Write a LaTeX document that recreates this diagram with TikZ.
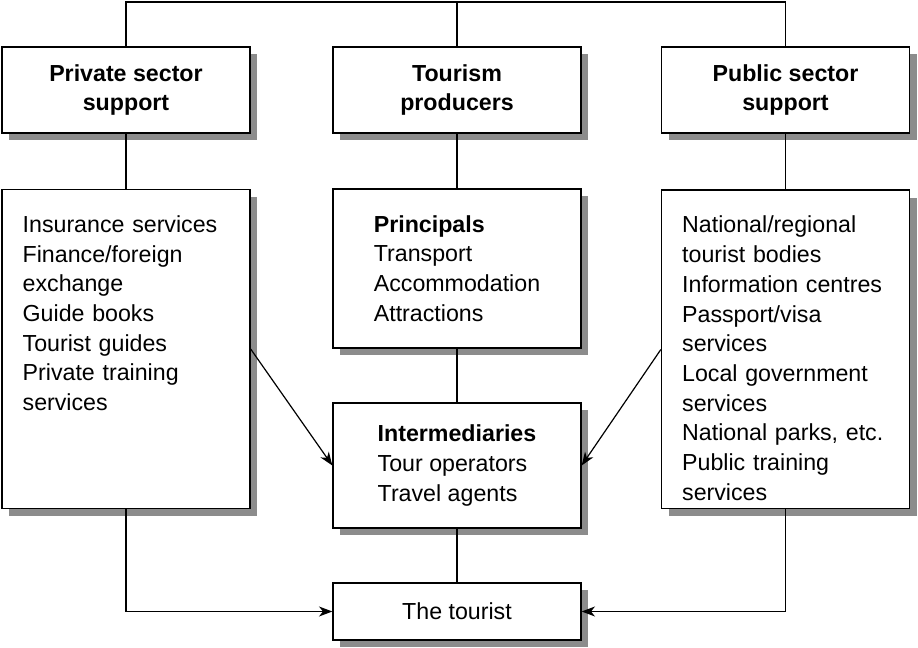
\documentclass[tikz,border=0pt]{standalone}
\usepackage{fontspec}
\setmainfont{Liberation Sans}
\usetikzlibrary{shadows,arrows.meta}

\begin{document}
\begin{tikzpicture}
  [x=0.75pt,y=-0.75pt,
   every node/.style={font=\fontsize{17.4}{22.3}\selectfont},
   box/.style={draw,fill=white,line width=1pt,minimum width=186pt,
     drop shadow={shadow xshift=5.6pt,shadow yshift=-5.6pt,fill=black!45,opacity=1}},
   head/.style={box,minimum height=64.5pt,align=center,
     font=\fontsize{17.4}{22.3}\selectfont\bfseries},
   listbox/.style={box,anchor=north,inner xsep=15.5pt,inner ysep=0pt,
     text width=155pt,align=left,text height=32pt,text depth=207pt},
   link/.style={line width=0.9pt},
   arr/.style={link,-{Stealth[length=10pt,width=7.5pt,inset=3pt]}}]
  \useasboundingbox (0,0) rectangle (918,648);

  \node[head] (priv) at (126,90) {Private sector\\support};
  \node[head] (prod) at (457,90) {Tourism\\producers};
  \node[head] (pub) at (785.5,90) {Public sector\\support};
  \coordinate (top) at (457,2);

  \node[listbox] (privlist) at (126,189) {Insurance services\\Finance/foreign\\exchange\\Guide books\\Tourist guides\\Private training\\services};
  \node[listbox] (publist) at (785.5,189.5) {National/regional\\tourist bodies\\Information centres\\Passport/visa\\services\\Local government\\services\\National parks, etc.\\Public training\\services};
  \node[box,minimum height=119.25pt,align=left] (princ) at (457,268.5) {\textbf{Principals}\\Transport\\Accommodation\\Attractions};
  \node[box,minimum height=93.75pt,align=left] (inter) at (457,465.5) {\textbf{Intermediaries}\\Tour operators\\Travel agents};
  \node[box,minimum height=42.75pt] (tourist) at (457,611.5) {The tourist};

  \draw[link] (priv.north) |- (top) -| (pub.north);
  \foreach \from/\to in {prod/top,priv/privlist,prod/princ,pub/publist,princ/inter,inter/tourist}
    \draw[link] (\from) -- (\to);
  \draw[arr] (privlist.east) -- (inter.west);
  \draw[arr] (publist.west) -- (inter.east);
  \draw[arr] (privlist.south) |- (tourist.west);
  \draw[arr] (publist.south) |- (tourist.east);
\end{tikzpicture}
\end{document}
